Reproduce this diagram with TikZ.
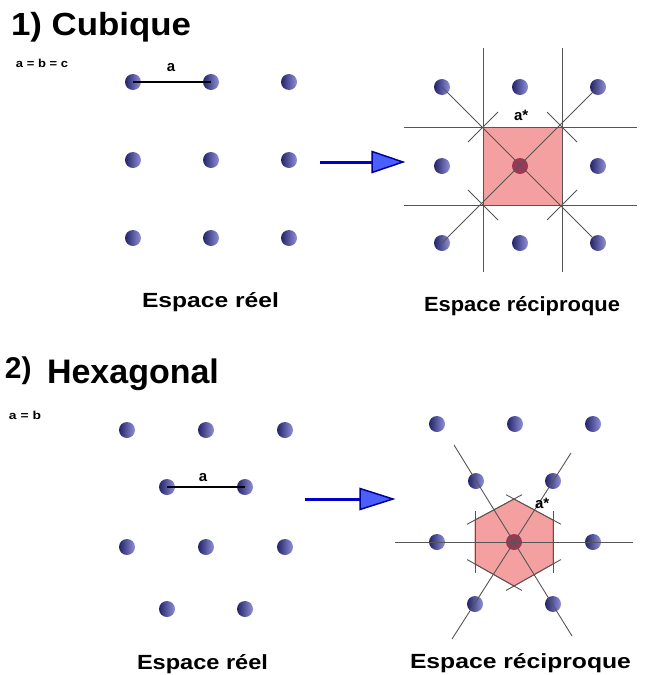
\documentclass[tikz,border=0pt]{standalone}
\usepackage{fontspec}
\setmainfont{Liberation Sans}
\usepackage{graphicx}
\usetikzlibrary{calc}
\definecolor{dotdark}{RGB}{35,35,105}
\definecolor{dotlight}{RGB}{145,145,215}
\definecolor{centerc}{RGB}{130,20,60}
\definecolor{linegray}{RGB}{85,85,85}
\definecolor{pinkfill}{RGB}{245,160,160}
\definecolor{pinkedge}{RGB}{190,95,95}
\definecolor{shaftblue}{RGB}{0,0,200}
\definecolor{headfill}{RGB}{75,95,255}
\definecolor{headedge}{RGB}{0,0,150}
\newlength\fitlen
\newcommand\fitw[2]{\settowidth\fitlen{#2}\pgfmathsetmacro\fitratio{#1/\fitlen}\scalebox{\fitratio}[1]{#2}}
\begin{document}
\begin{tikzpicture}[x=1pt,y=-1pt,
  dot/.style={circle,inner sep=0pt,minimum size=16pt,left color=dotdark,right color=dotlight},
  cdot/.style={circle,inner sep=0pt,minimum size=16pt,fill=centerc,fill opacity=0.75},
  lat/.style={draw=linegray,line width=0.9pt},
  bond/.style={draw=black,line width=1.3pt},
  cell/.style={fill=pinkfill,draw=pinkedge,line width=0.9pt},
  shaft/.style={draw=shaftblue,line width=3pt},
  head/.style={fill=headfill,draw=headedge,line width=1.5pt,line join=miter},
  txt/.style={inner sep=0pt,outer sep=0pt},
  title/.style={txt,anchor=base west,font=\bfseries\fontsize{32}{36}\selectfont},
  small/.style={txt,anchor=base west,font=\bfseries\fontsize{11.5}{13}\selectfont},
  lbl/.style={txt,font=\bfseries\fontsize{15}{17}\selectfont},
  space/.style={txt,anchor=base west,font=\bfseries\fontsize{20.5}{24}\selectfont}
]
\useasboundingbox (0,0) rectangle (649,675);

% ================= 1) Cubique =================
\node[title] (t1) at (11,35) {\fitw{180pt}{1) Cubique}};
\node[small] (e1) at (16,67) {\fitw{52pt}{a = b = c}};

% real space
\foreach \i/\x in {1/133,2/211,3/289}
  \foreach \j/\y in {1/82,2/160,3/238}
    \node[dot] (r\i\j) at (\x,\y) {};
\draw[bond] (r11.center) -- (r21.center);
\node[lbl] (la1) at (171,67.5) {a};
\node[space] (s1) at (142,307) {\fitw{137pt}{Espace réel}};

% arrow 1
\coordinate (a1s) at (320,162);
\coordinate (a1b) at (372,162);
\coordinate (a1t) at (403,162);
\draw[shaft] (a1s) -- (a1b);
\draw[head] ($(a1b)+(0,-10.5)$) -- (a1t) -- ($(a1b)+(0,10.5)$) -- cycle;

% reciprocal space
\coordinate (k0) at (520,166);
\coordinate (q1) at (483,127);
\coordinate (q2) at (562,127);
\coordinate (q3) at (562,205);
\coordinate (q4) at (483,205);
\fill[cell] (q1) -- (q2) -- (q3) -- (q4) -- cycle;
\foreach \n/\x/\y in {k11/442/87,k21/520/87,k31/598/87,k12/442/166,k32/598/166,k13/442/243,k23/520/243,k33/598/243}
  \node[dot] (\n) at (\x,\y) {};
\node[cdot] (kc) at (k0) {};
\coordinate (h1l) at (404,127); \coordinate (h1r) at (637,127);
\coordinate (h2l) at (404,205); \coordinate (h2r) at (637,205);
\coordinate (v1t) at (483,48);  \coordinate (v1b) at (483,272);
\coordinate (v2t) at (562,48);  \coordinate (v2b) at (562,272);
\draw[lat] (h1l) -- (h1r);
\draw[lat] (h2l) -- (h2r);
\draw[lat] (v1t) -- (v1b);
\draw[lat] (v2t) -- (v2b);
\draw[lat] (k11.center) -- (k33.center);
\draw[lat] (k31.center) -- (k13.center);
\draw[lat] ($(q1)+(-15,15)$) -- ($(q1)+(15,-15)$);
\draw[lat] ($(q2)+(-15,-15)$) -- ($(q2)+(15,15)$);
\draw[lat] ($(q3)+(-15,15)$) -- ($(q3)+(15,-15)$);
\draw[lat] ($(q4)+(-15,-15)$) -- ($(q4)+(15,15)$);
\node[lbl,anchor=base west] (ls1) at (514,120) {a*};
\node[space] (s2) at (424,311) {\fitw{196pt}{Espace réciproque}};

% ================= 2) Hexagonal =================
\node[txt,anchor=base west,font=\bfseries\fontsize{30}{34}\selectfont] (t2a) at (5,378) {2)};
\node[txt,anchor=base west,font=\bfseries\fontsize{34}{38}\selectfont] (t2b) at (47,383) {Hexagonal};
\node[small] (e2) at (9,419) {\fitw{32pt}{a = b}};

% real space
\foreach \n/\x/\y in {p11/127/430,p21/206/430,p31/285/430,p12/167/487,p22/245/487,p13/127/547,p23/206/547,p33/285/547,p14/167/609,p24/245/609}
  \node[dot] (\n) at (\x,\y) {};
\draw[bond] (p12.center) -- (p22.center);
\node[lbl] (la2) at (203,478) {a};
\node[space] (s3) at (137,669) {\fitw{131pt}{Espace réel}};

% arrow 2
\coordinate (a2s) at (305,499);
\coordinate (a2b) at (360,499);
\coordinate (a2t) at (393,499);
\draw[shaft] (a2s) -- (a2b);
\draw[head] ($(a2b)+(0,-10.5)$) -- (a2t) -- ($(a2b)+(0,10.5)$) -- cycle;

% reciprocal space
\coordinate (g0) at (514,542);
\coordinate (x1) at (514,499);
\coordinate (x2) at (553,520);
\coordinate (x3) at (553,564);
\coordinate (x4) at (514,586);
\coordinate (x5) at (475,564);
\coordinate (x6) at (475,520);
\fill[cell] (x1) -- (x2) -- (x3) -- (x4) -- (x5) -- (x6) -- cycle;
\foreach \n/\x/\y in {g11/437/424,g21/515/424,g31/593/424,g12/476/481,g22/553/481,g13/437/542,g33/593/542,g14/475/604,g24/553/604}
  \node[dot] (\n) at (\x,\y) {};
\node[cdot] (gc) at (g0) {};
\coordinate (l1a) at (395,542); \coordinate (l1b) at (633,542);
\coordinate (l2a) at (454,445); \coordinate (l2b) at (572,636);
\coordinate (l3a) at (571,453); \coordinate (l3b) at (452,639);
\draw[lat] (l1a) -- (l1b);
\draw[lat] (l2a) -- (l2b);
\draw[lat] (l3a) -- (l3b);
\foreach \u/\v in {x1/x2,x2/x3,x3/x4,x4/x5,x5/x6,x6/x1}
  \draw[lat,shorten <=-9pt,shorten >=-9pt] (\u) -- (\v);
\node[lbl,anchor=base west] (ls2) at (535,508) {a*};
\node[space] (s4) at (410,668) {\fitw{221pt}{Espace réciproque}};
\end{tikzpicture}
\end{document}
